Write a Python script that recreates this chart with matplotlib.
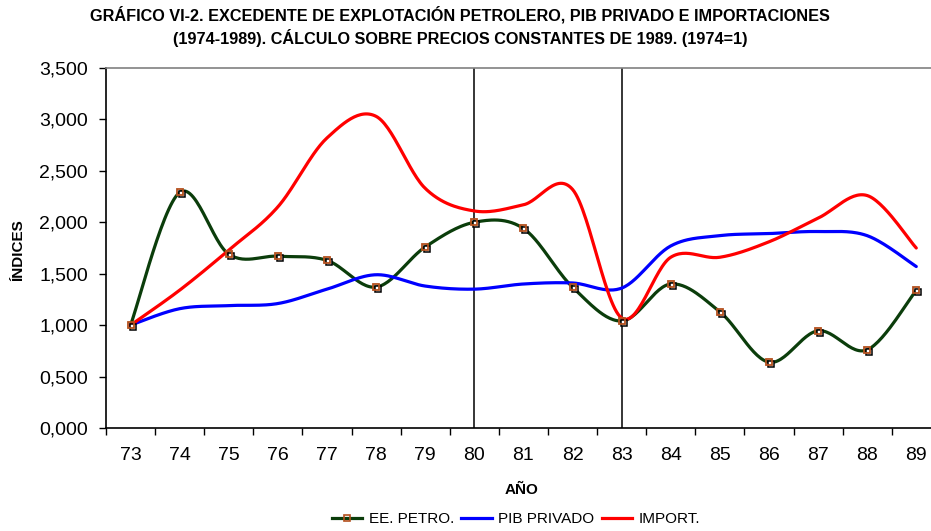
import numpy as np
import matplotlib
matplotlib.use("Agg")
import matplotlib.pyplot as plt
from matplotlib.ticker import FixedLocator, FuncFormatter
import matplotlib.transforms as mtransforms
from matplotlib.lines import Line2D

years = ["73", "74", "75", "76", "77", "78", "79", "80", "81", "82", "83", "84", "85", "86", "87", "88", "89"]
ee_petro = [1.00, 2.29, 1.69, 1.67, 1.63, 1.37, 1.76, 2.00, 1.94, 1.37, 1.04, 1.40, 1.13, 0.64, 0.945, 0.76, 1.34]
pib_privado = [1.00, 1.16, 1.19, 1.21, 1.35, 1.49, 1.38, 1.35, 1.40, 1.41, 1.36, 1.77, 1.87, 1.89, 1.91, 1.87, 1.57]
importaciones = [1.00, 1.34, 1.73, 2.15, 2.82, 3.03, 2.33, 2.11, 2.17, 2.32, 1.07, 1.66, 1.66, 1.81, 2.04, 2.26, 1.75]
vlines_at = ["80", "83"]
yticks = [0.0, 0.5, 1.0, 1.5, 2.0, 2.5, 3.0, 3.5]

def smooth(xs, ys, n=30):
    xs = np.asarray(xs, float); ys = np.asarray(ys, float)
    P = np.column_stack([xs, ys])
    Pe = np.vstack([P[0], P, P[-1]])
    out = []
    t = np.linspace(0, 1, n)[:, None]
    for i in range(len(P) - 1):
        p0, p1, p2, p3 = Pe[i], Pe[i + 1], Pe[i + 2], Pe[i + 3]
        b0 = p1
        b1 = p1 + (p2 - p0) / 6.0
        b2 = p2 - (p3 - p1) / 6.0
        b3 = p2
        seg = (1 - t) ** 3 * b0 + 3 * (1 - t) ** 2 * t * b1 + 3 * (1 - t) * t ** 2 * b2 + t ** 3 * b3
        out.append(seg if i == 0 else seg[1:])
    c = np.vstack(out)
    return c[:, 0], c[:, 1]

sans = ['Liberation Sans', 'DejaVu Sans']
plt.rcParams['font.family'] = sans

W, H = 931, 531
fig = plt.figure(figsize=(W / 100, H / 100), dpi=100)
ax = fig.add_axes([106 / W, (H - 428) / H, (W - 106) / W, (428 - 68) / H])

x = np.arange(len(years))
green = '#0B3D0B'
lw = 2.3
gx, gy = smooth(x, ee_petro)
bx, by = smooth(x, pib_privado)
rx, ry = smooth(x, importaciones)
ax.plot(gx, gy, color=green, lw=lw, zorder=3, solid_capstyle='round')
ax.plot(bx, by, color='#0000FF', lw=lw, zorder=3, solid_capstyle='round')
ax.plot(rx, ry, color='#FF0000', lw=lw, zorder=3, solid_capstyle='round')

shadow = mtransforms.offset_copy(ax.transData, fig=fig, x=2, y=-2, units='dots')
ax.plot(x, ee_petro, ls='none', marker='s', ms=5, mfc='white', mec='black', mew=1.1,
        transform=shadow, zorder=4)
ax.plot(x, ee_petro, ls='none', marker='s', ms=5, mfc='none', mec='#B4501E', mew=1.3, zorder=5)

for v in vlines_at:
    ax.axvline(years.index(v), color='black', lw=1.1, zorder=2)

ax.set_xlim(-0.5, 16.30)
ax.set_ylim(0, 3.5)
ax.set_xticks(x)
ax.set_xticklabels(years)
ax.xaxis.set_minor_locator(FixedLocator(np.arange(-0.5, 17, 1)))
ax.tick_params(axis='x', which='major', length=0, pad=14, labelsize=14)
ax.tick_params(axis='x', which='minor', length=5, width=1, direction='out')
ax.set_yticks(yticks)
ax.yaxis.set_major_formatter(FuncFormatter(lambda v, p: f"{v:.3f}".replace('.', ',')))
ax.tick_params(axis='y', length=5, width=1, direction='out', pad=8, labelsize=14)

for s in ['left', 'bottom']:
    ax.spines[s].set_color('black')
    ax.spines[s].set_linewidth(1.2)
ax.spines['top'].set_color('#808080')
ax.spines['top'].set_linewidth(1.2)
ax.spines['right'].set_visible(False)

fig.text(460 / W, 1 - 15 / H, "GRÁFICO VI-2. EXCEDENTE DE EXPLOTACIÓN PETROLERO, PIB PRIVADO E IMPORTACIONES",
         ha='center', va='center', fontsize=11.7, fontweight='bold')
fig.text(460 / W, 1 - 38 / H, "(1974-1989). CÁLCULO SOBRE PRECIOS CONSTANTES DE 1989. (1974=1)",
         ha='center', va='center', fontsize=11.7, fontweight='bold')
fig.text(18 / W, 1 - 250 / H, "ÍNDICES", rotation=90, ha='center', va='center',
         fontsize=11, fontweight='bold')
fig.text(522 / W, 1 - 490 / H, "AÑO", ha='center', va='center',
         fontsize=11, fontweight='bold')

handles = [
    Line2D([], [], color=green, lw=lw, marker='s', ms=4.5, mfc='none', mec='#B4501E', mew=1.2),
    Line2D([], [], color='#0000FF', lw=lw),
    Line2D([], [], color='#FF0000', lw=lw),
]
leg = fig.legend(handles, ["EE. PETRO.", "PIB PRIVADO", "IMPORT."], loc='center',
                 bbox_to_anchor=(516 / W, 1 - 519 / H), ncol=3, frameon=False,
                 prop={'size': 11}, handlelength=2.0,
                 handletextpad=0.4, columnspacing=0.5)

fig.savefig("out.png", dpi=100)
